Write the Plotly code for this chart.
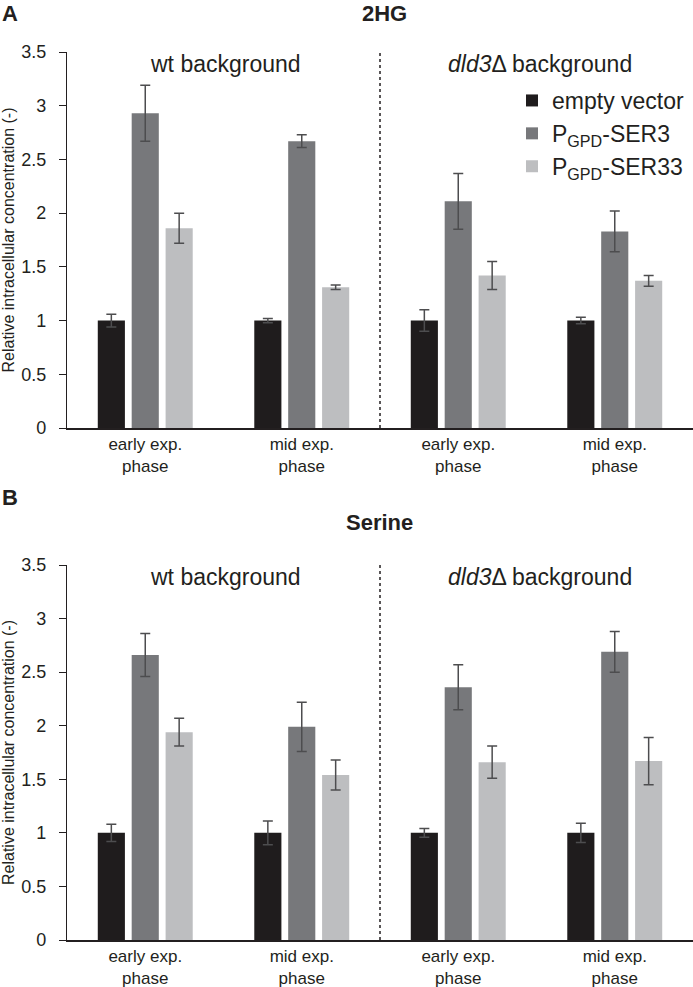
import plotly.graph_objects as go

categories = ["early exp.<br>phase", "mid exp.<br>phase", "early exp.<br>phase", "mid exp.<br>phase"]
series_names = ["empty vector", "P<sub>GPD</sub>-SER3", "P<sub>GPD</sub>-SER33"]
colors = ["#1f1c1d", "#77787b", "#bdbec0"]

# Panel A: 2HG
hg_ev = [1.0, 1.0, 1.0, 1.0]
hg_ev_err = [0.06, 0.02, 0.10, 0.03]
hg_ser3 = [2.93, 2.67, 2.11, 1.83]
hg_ser3_err = [0.26, 0.06, 0.26, 0.19]
hg_ser33 = [1.86, 1.31, 1.42, 1.37]
hg_ser33_err = [0.14, 0.02, 0.13, 0.05]

# Panel B: Serine
ser_ev = [1.0, 1.0, 1.0, 1.0]
ser_ev_err = [0.08, 0.11, 0.04, 0.09]
ser_ser3 = [2.66, 1.99, 2.36, 2.69]
ser_ser3_err = [0.20, 0.23, 0.21, 0.19]
ser_ser33 = [1.94, 1.54, 1.66, 1.67]
ser_ser33_err = [0.13, 0.14, 0.15, 0.22]

y_ticks = [0, 0.5, 1, 1.5, 2, 2.5, 3, 3.5]
y_ticktext = ["0", "0.5", "1", "1.5", "2", "2.5", "3", "3.5"]

FONT = "Liberation Sans, Arial, sans-serif"
TXT = "#231f20"
W, H = 693, 987
ML, MR, MT, MB = 67, 0, 52, 47
PW, PH = W - ML - MR, H - MT - MB

def px_x(px):
    return (px - ML) / PW

def px_y(py):
    return (H - MB - py) / PH

fig = go.Figure()
xs = list(range(len(categories)))

panels = [
    ("x", "y", [hg_ev, hg_ser3, hg_ser33], [hg_ev_err, hg_ser3_err, hg_ser33_err], True),
    ("x2", "y2", [ser_ev, ser_ser3, ser_ser33], [ser_ev_err, ser_ser3_err, ser_ser33_err], False),
]
for xa, ya, vals, errs, show in panels:
    for i in range(3):
        fig.add_trace(go.Bar(
            x=xs, y=vals[i], name=series_names[i], xaxis=xa, yaxis=ya,
            marker=dict(color=colors[i], line=dict(width=0)),
            error_y=dict(type="data", array=errs[i], color="#4d4d4f", thickness=1.5, width=5),
            showlegend=show, legendgroup=series_names[i],
        ))

top_dom = [px_y(428), px_y(52)]
bot_dom = [px_y(940), px_y(565)]

axis_common = dict(
    range=[0, 3.5], tickvals=y_ticks, ticktext=y_ticktext, showgrid=False, zeroline=False,
    showline=True, linecolor=TXT, linewidth=1.2, ticks="outside", ticklen=7, tickcolor=TXT,
    tickfont=dict(size=18, color=TXT, family=FONT), ticklabelstandoff=9,
    title=dict(text="Relative intracellular concentration (-)", font=dict(size=16, color=TXT, family=FONT), standoff=5),
)
xaxis_common = dict(
    range=[-0.5, 3.5], tickvals=xs, ticktext=categories, showgrid=False, zeroline=False,
    showline=True, linecolor=TXT, linewidth=1.5, ticks="",
    tickfont=dict(size=17, color=TXT, family=FONT),
)

fig.update_layout(
    width=W, height=H, margin=dict(l=ML, r=MR, t=MT, b=MB, autoexpand=False),
    paper_bgcolor="white", plot_bgcolor="white",
    barmode="group", bargap=0.35, bargroupgap=0.2,
    font=dict(family=FONT, color=TXT),
    xaxis=dict(domain=[0, 1], anchor="y", **xaxis_common),
    yaxis=dict(domain=top_dom, anchor="x", **axis_common),
    xaxis2=dict(domain=[0, 1], anchor="y2", **xaxis_common),
    yaxis2=dict(domain=bot_dom, anchor="x2", **axis_common),
    legend=dict(x=px_x(512), y=px_y(79), xanchor="left", yanchor="top",
                font=dict(size=23, color=TXT, family=FONT), bgcolor="rgba(0,0,0,0)",
                tracegroupgap=0, itemwidth=30),
    showlegend=True,
)

for ya in ["y", "y2"]:
    fig.add_shape(type="line", xref="x" if ya == "y" else "x2", yref=ya,
                  x0=1.5, x1=1.5, y0=0, y1=3.5, layer="below",
                  line=dict(color=TXT, width=1.5, dash="dot"))

ann = []
def add_text(text, px, py, size, bold=False, xanchor="center"):
    t = f"<b>{text}</b>" if bold else text
    ann.append(dict(text=t, x=px_x(px), y=px_y(py), xref="paper", yref="paper",
                    xanchor=xanchor, yanchor="middle", showarrow=False,
                    font=dict(size=size, color=TXT, family=FONT)))

add_text("A", 0, 13, 22, bold=True, xanchor="left")
add_text("2HG", 384, 13, 22, bold=True)
add_text("B", 0, 497, 22, bold=True, xanchor="left")
add_text("Serine", 379, 522, 22, bold=True)
for py in (64, 577):
    add_text("wt background", 225, py, 23)
    add_text("<i>dld3</i>Δ background", 540, py, 23)
fig.update_layout(annotations=ann)

fig.write_html("out.html", config={"displayModeBar": False},
               post_script="document.body.style.margin='0';document.body.style.overflow='hidden';")
